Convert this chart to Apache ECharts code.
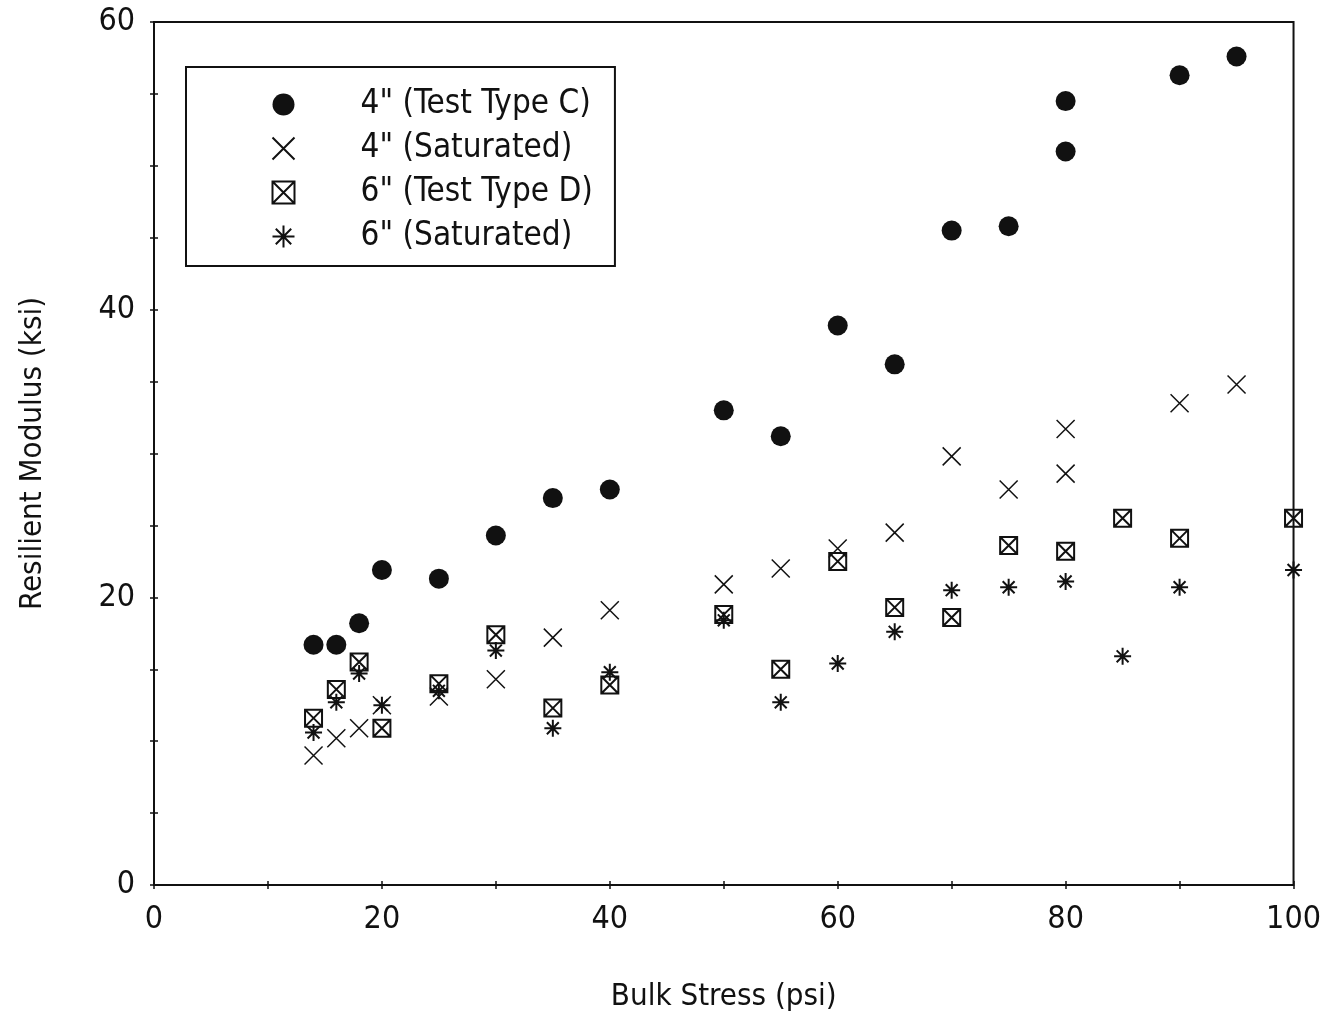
<!DOCTYPE html>
<html>
<head>
<meta charset="utf-8">
<script src="https://cdn.jsdelivr.net/npm/echarts@6/dist/echarts.min.js"></script>
<style>
  html, body { margin: 0; padding: 0; background: #fff; }
  #chart { width: 1324px; height: 1021px; }
</style>
</head>
<body>
<div id="chart"></div>
<script>
// 4" (Test Type C)
var typeC4 = [
  [14, 16.7], [16, 16.7], [18, 18.2], [20, 21.9], [25, 21.3], [30, 24.3],
  [35, 26.9], [40, 27.5], [50, 33.0], [55, 31.2], [60, 38.9], [65, 36.2],
  [70, 45.5], [75, 45.8], [80, 54.5], [80, 51.0], [90, 56.3], [95, 57.6]
];
// 4" (Saturated)
var sat4 = [
  [14, 9.0], [16, 10.2], [18, 10.9], [20, 12.5], [25, 13.1], [30, 14.3],
  [35, 17.2], [40, 19.1], [50, 20.9], [55, 22.0], [60, 23.4], [65, 24.5],
  [70, 29.8], [75, 27.5], [80, 31.7], [80, 28.6], [90, 33.5], [95, 34.8]
];
// 6" (Test Type D)
var typeD6 = [
  [14, 11.6], [16, 13.6], [18, 15.5], [20, 10.9], [25, 14.0], [30, 17.4],
  [35, 12.3], [40, 13.9], [50, 18.8], [55, 15.0], [60, 22.5], [65, 19.3],
  [70, 18.6], [75, 23.6], [80, 23.2], [85, 25.5], [90, 24.1], [100, 25.5]
];
// 6" (Saturated)
var sat6 = [
  [14, 10.6], [16, 12.7], [18, 14.7], [20, 12.5], [25, 13.5], [30, 16.3],
  [35, 10.9], [40, 14.8], [50, 18.4], [55, 12.7], [60, 15.4], [65, 17.6],
  [70, 20.5], [75, 20.7], [80, 21.1], [85, 15.9], [90, 20.7], [100, 21.9]
];
var seriesNames = ['4" (Test Type C)', '4" (Saturated)', '6" (Test Type D)', '6" (Saturated)'];

var fontFamily = '"DejaVu Sans Condensed", "Liberation Sans", sans-serif';
var ink = '#111';

// marker outlines (stroked, not filled)
var crossPath = 'path://M0 0 L10 10 M10 0 L0 10';
var boxPath = 'path://M0 0 L10 0 L10 10 L0 10 Z M0 0 L10 10 M10 0 L0 10';
var starPath = 'path://M5 0 L5 10 M0 5 L10 5 M1.5 1.5 L8.5 8.5 M8.5 1.5 L1.5 8.5';

var chartDom = echarts.init(document.getElementById('chart'));

function axisBase(pos, interval, showLabel) {
  return {
    type: 'value',
    position: pos,
    min: 0,
    max: pos === 'bottom' || pos === 'top' ? 100 : 60,
    interval: interval,
    splitLine: { show: false },
    axisLine: { show: false },
    axisTick: { show: true, inside: true, length: 4, lineStyle: { color: ink, width: 1.5 } },
    axisLabel: {
      show: showLabel,
      color: ink,
      fontFamily: fontFamily,
      fontSize: 32,
      margin: 19,
      formatter: function (v) { return v % 20 === 0 ? String(v) : ''; }
    }
  };
}

var xBottom = axisBase('bottom', 10, true);
xBottom.name = 'Bulk Stress (psi)';
xBottom.nameLocation = 'middle';
xBottom.nameGap = 96;
xBottom.nameTextStyle = { color: ink, fontFamily: fontFamily, fontSize: 31 };
var xTop = axisBase('top', 10, false);

var yLeft = axisBase('left', 5, true);
yLeft.name = 'Resilient Modulus (ksi)';
yLeft.nameLocation = 'middle';
yLeft.nameGap = 106;
yLeft.nameTextStyle = { color: ink, fontFamily: fontFamily, fontSize: 31 };
var yRight = axisBase('right', 5, false);

var option = {
  backgroundColor: '#fff',
  animation: false,
  grid: {
    left: 154,
    right: 30,
    top: 22,
    bottom: 136,
    show: true,
    borderColor: ink,
    borderWidth: 2,
    backgroundColor: '#fff'
  },
  legend: {
    orient: 'vertical',
    left: 186,
    top: 67,
    padding: [21, 22, 13, 84],
    itemWidth: 144,
    itemHeight: 22,
    itemGap: 11,
    borderColor: ink,
    borderWidth: 2,
    textStyle: { color: ink, fontFamily: fontFamily, fontSize: 33, lineHeight: 30 },
    data: seriesNames
  },
  xAxis: [xBottom, xTop],
  yAxis: [yLeft, yRight],
  series: [
    {
      name: seriesNames[0],
      type: 'scatter',
      symbol: 'circle',
      symbolSize: 20,
      itemStyle: { color: ink, opacity: 1 },
      data: typeC4
    },
    {
      name: seriesNames[1],
      type: 'scatter',
      symbol: crossPath,
      symbolSize: 18,
      itemStyle: { color: 'none', borderColor: ink, borderWidth: 1.5, opacity: 1 },
      data: sat4
    },
    {
      name: seriesNames[2],
      type: 'scatter',
      symbol: boxPath,
      symbolSize: 17,
      itemStyle: { color: 'none', borderColor: ink, borderWidth: 2, opacity: 1 },
      data: typeD6
    },
    {
      name: seriesNames[3],
      type: 'scatter',
      symbol: starPath,
      symbolSize: 17,
      itemStyle: { color: 'none', borderColor: ink, borderWidth: 2, opacity: 1 },
      data: sat6
    }
  ]
};
chartDom.setOption(option);
</script>
</body>
</html>
